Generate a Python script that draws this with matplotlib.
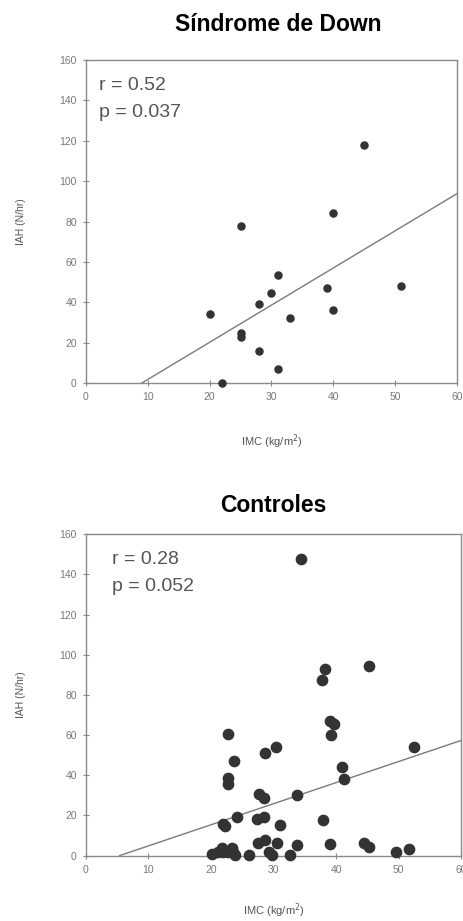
import matplotlib.pyplot as plt
import numpy as np

plt.rcParams['font.family'] = ['Liberation Sans', 'DejaVu Sans']

# Sindrome de Down
sd_imc = [45, 40, 25, 20, 25, 25, 28, 28, 30, 31, 31, 33, 22, 39, 40, 51]
sd_iah = [118, 84, 78, 34, 25, 22.6, 39, 16, 44.5, 53.5, 7.2, 32, 0, 47.2, 36.1, 48.3]
sd_fit = (1.84, -16.6)  # slope, intercept
sd_text = ['r = 0.52', 'p = 0.037']

# Controles
ct_imc = [34.4, 38.2, 37.8, 45.2,
          22.8, 23.7, 22.8, 22.8, 28.6, 30.4, 39.0, 39.7, 39.2, 40.9, 41.2, 52.5,
          27.7, 28.4, 33.7, 24.1, 22.0, 22.3, 27.3, 28.4, 31.0, 37.9,
          27.5, 28.6, 30.6, 33.7, 39.0, 44.4, 45.2, 51.7, 49.6,
          20.1, 21.1, 21.9, 22.7, 23.5, 26.0, 29.2, 29.7, 32.6, 21.7, 23.3, 23.8]
ct_iah = [147.6, 92.7, 87.4, 94.5,
          60.4, 47.1, 38.8, 35.5, 50.9, 53.9, 67.0, 65.4, 60.0, 44.0, 38.0, 53.9,
          30.7, 28.5, 30.2, 19.4, 15.8, 14.8, 18.1, 19.4, 15.3, 17.8,
          6.5, 7.8, 6.2, 5.2, 5.8, 6.5, 4.5, 3.2, 1.7,
          1.0, 2.0, 2.0, 2.0, 2.0, 0.5, 2.0, 0.5, 0.5, 4.0, 4.0, 0.5]
ct_fit = (1.05, -5.66)
ct_text = ['r = 0.28', 'p = 0.052']

xticks = [0, 10, 20, 30, 40, 50, 60]
yticks = [0, 20, 40, 60, 80, 100, 120, 140, 160]

fig = plt.figure(figsize=(4.64, 9.21), dpi=100)
ax1 = fig.add_axes([0.185, 0.584, 0.800, 0.351])
ax2 = fig.add_axes([0.185, 0.071, 0.809, 0.349])


def panel(ax, x, y, fit, txt, title, ms, tx, tpad, ttx, xpad):
    ax.set_xlim(0, 60)
    ax.set_ylim(0, 160)
    slope, icpt = fit
    x0 = -icpt / slope
    lx = np.array([x0, 60])
    ax.plot(lx, slope * lx + icpt, color='#7a7a7a', lw=1.0, zorder=2)
    ax.scatter(x, y, s=ms, color='#333333', zorder=3, clip_on=False)
    for sp in ax.spines.values():
        sp.set_color('#8a8a8a')
        sp.set_linewidth(1.0)
    ax.set_xticks(xticks)
    ax.set_yticks(yticks)
    ax.tick_params(direction='inout', length=5, width=0.8, color='#8a8a8a',
                   labelsize=7.5, labelcolor='#777777', pad=4)
    ax.set_xlabel('IMC (kg/m$^{2}$)', fontsize=8, color='#555555', labelpad=xpad)
    ax.set_ylabel('IAH (N/hr)', fontsize=7.5, color='#555555', labelpad=24)
    ax.text(tx, 0.922, txt[0], transform=ax.transAxes, fontsize=14,
            color='#555555', va='center')
    ax.text(tx, 0.837, txt[1], transform=ax.transAxes, fontsize=14,
            color='#555555', va='center')
    ax.set_title(title, fontsize=16.5, fontweight='bold', pad=tpad, x=ttx)


panel(ax1, sd_imc, sd_iah, sd_fit, sd_text, 'Síndrome de Down', 26, 0.035, 21, 0.517, 22)
panel(ax2, ct_imc, ct_iah, ct_fit, ct_text, 'Controles', 55, 0.069, 16, 0.5, 19)

fig.savefig('out.png', dpi=100)
